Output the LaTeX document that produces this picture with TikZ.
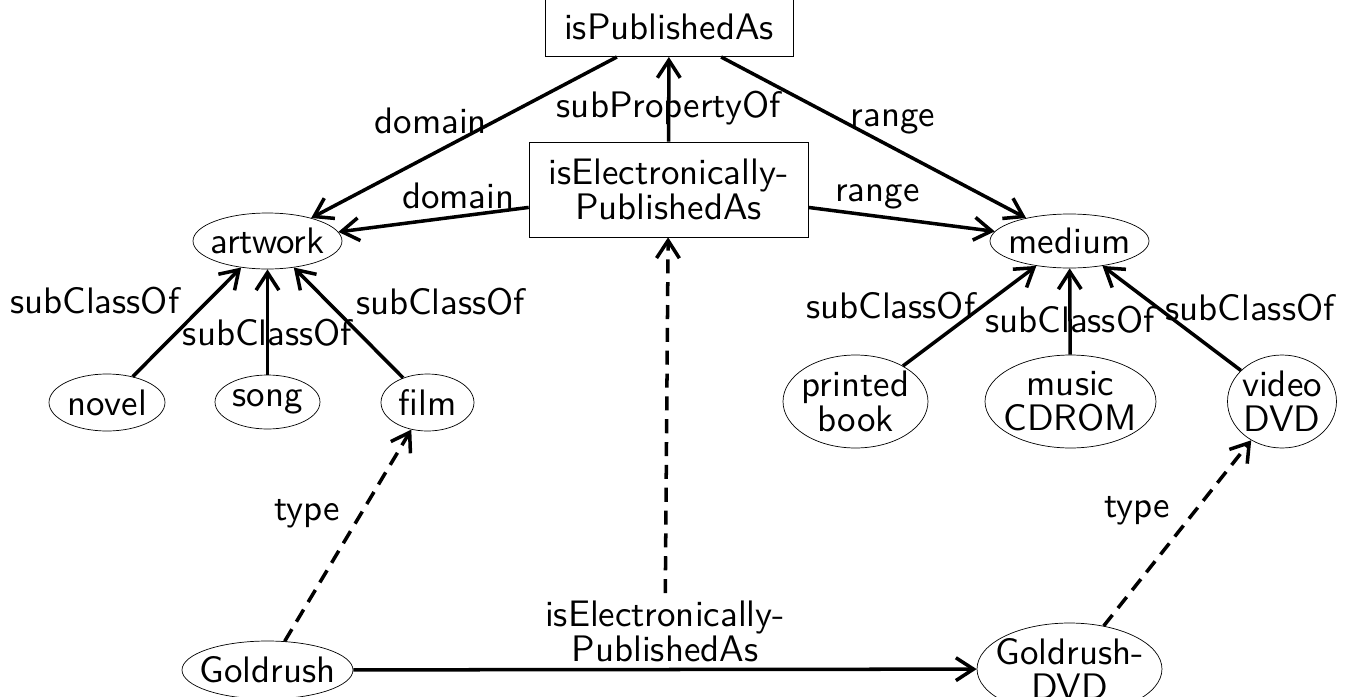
\documentclass[tikz,border=0pt]{standalone}
\usepackage{fontspec}
\setsansfont{lmsans10-regular}[Extension=.otf]
\usetikzlibrary{shapes.geometric,arrows.meta}

\tikzset{
  cls/.style={ellipse,draw,thin,inner sep=-20pt,align=center},
  prop/.style={rectangle,draw,thin,align=center},
  arr/.style={line width=2pt,-{Straight Barb[length=10pt,width=13pt]}},
  typearr/.style={arr,dash pattern=on 8pt off 5pt},
}

\begin{document}
\begin{tikzpicture}[x=0.02cm,y=-0.02cm,font=\fontsize{21}{20}\selectfont\sffamily]
\useasboundingbox (0,0) rectangle (1347,697);
\clip (0,0) rectangle (1347,697);
% properties
\node[prop,anchor=south,minimum width=4.96cm,minimum height=2cm,text height=37.5pt,text depth=0pt] (pub) at (669,57) {isPublishedAs};
\node[prop,minimum width=5.58cm,minimum height=1.9cm] (elec) at (668.5,189.5) {isElectronically-\\PublishedAs};
% classes
\node[cls,minimum width=2.98cm,minimum height=1.12cm] (artwork) at (267.5,241) {artwork};
\node[cls,minimum width=2.32cm,minimum height=1.14cm] (novel) at (107,402.5) {novel};
\node[cls,minimum width=2.1cm,minimum height=1.08cm] (song) at (267.5,402) {song};
\node[cls,minimum width=1.86cm,minimum height=1.14cm] (film) at (427.5,402.5) {film};
\node[cls,minimum width=3.18cm,minimum height=1.08cm] (medium) at (1069.5,241) {medium};
\node[cls,minimum width=2.9cm,minimum height=1.86cm] (book) at (855.5,401.5) {printed\\book};
\node[cls,minimum width=3.42cm,minimum height=1.86cm] (cdrom) at (1070.5,401.5) {music\\CDROM};
\node[cls,minimum width=2.18cm,minimum height=1.86cm] (dvd) at (1282,401.5) {video\\DVD};
% instances
\node[cls,minimum width=3.42cm,minimum height=1.16cm] (goldrush) at (267.5,670) {Goldrush};
\node[cls,minimum width=3.7cm,minimum height=1.84cm] (gdvd) at (1069.5,669) {Goldrush-\\DVD};

\draw[arr] (elec) -- node[pos=0.4] {subPropertyOf} (pub);
\draw[arr] (pub.224) -- node[left,pos=0.4] {domain} (artwork);
\draw[arr] (pub.-44) -- node[right,pos=0.4] {range} (medium);
\draw[arr] (elec) -- node[above,pos=0.37] {domain} (artwork);
\draw[arr] (elec) -- node[above,pos=0.37] {range} (medium);

\draw[arr] (novel) -- node[above left] {subClassOf} (artwork);
\draw[arr] (song) -- node[pos=0.4] {subClassOf} (artwork);
\draw[arr] (film) -- node[above right] {subClassOf} (artwork);
\draw[arr] (book) -- node[left,pos=0.6] {subClassOf} (medium);
\draw[arr] (cdrom) -- node[pos=0.4] {subClassOf} (medium);
\draw[arr] (dvd) -- node[right,pos=0.6] {subClassOf} (medium);

\draw[typearr] (goldrush) -- node[above left] {type} (film);
\draw[typearr] (gdvd) -- node[above left] {type} (dvd);
\draw[arr] (goldrush) -- node[above,align=center] (ep) {isElectronically-\\PublishedAs} (gdvd);
\draw[typearr] (ep) -- (elec);
\end{tikzpicture}
\end{document}
